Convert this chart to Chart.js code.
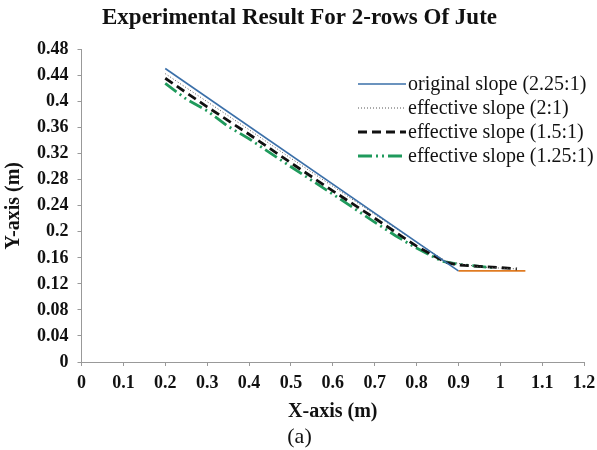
<!DOCTYPE html>
<html>
<head>
<meta charset="utf-8">
<script src="https://cdn.jsdelivr.net/npm/chart.js@4/dist/chart.umd.min.js"></script>
<style>
  html, body { margin: 0; padding: 0; background: #fff; }
  #wrap { width: 597px; height: 450px; }
</style>
</head>
<body>
<div id="wrap"><canvas id="jute"></canvas></div>
<script>
// series (x in m, y in m)
var xOriginal = [0.2, 0.9];
var yOriginal = [0.451, 0.14];

var xSlope2 = [0.2, 0.3, 0.4, 0.5, 0.6, 0.7, 0.8, 0.87, 0.95, 1.04];
var ySlope2 = [0.443, 0.400, 0.357, 0.313, 0.270, 0.227, 0.184, 0.155, 0.146, 0.143];

var xSlope15 = [0.2, 0.3, 0.4, 0.5, 0.6, 0.7, 0.8, 0.87, 0.9, 1.0, 1.04];
var ySlope15 = [0.436, 0.392, 0.350, 0.306, 0.263, 0.221, 0.178, 0.153, 0.149, 0.145, 0.143];

var xSlope125 = [0.2, 0.25, 0.3, 0.35, 0.4, 0.5, 0.6, 0.7, 0.75, 0.8, 0.86, 0.9, 0.98];
var ySlope125 = [0.428, 0.404, 0.386, 0.362, 0.343, 0.300, 0.258, 0.215, 0.194, 0.175, 0.155, 0.150, 0.145];

var xBase = [0.9, 1.06];
var yBase = [0.14, 0.14];

var labels = ['original slope (2.25:1)', 'effective slope (2:1)', 'effective slope (1.5:1)', 'effective slope (1.25:1)'];

var serif = "'Liberation Serif', 'Times New Roman', serif";

//zip x and y into points
function pts(xs, ys) {
  var out = [];
  for (var i = 0; i < xs.length; i++) {
    out.push({x: xs[i], y: ys[i]});
  }
  return out;
}

function fmt(v) {
  return String(parseFloat(v.toFixed(2)));
}

//legend drawn inside the plot, top right
const insideLegend = {
  id: 'insideLegend',
  afterDraw(chart) {
    var ctx = chart.ctx;
    var left = 358, top = 84, gap = 24, len = 48;
    ctx.save();
    ctx.font = '20px ' + serif;
    ctx.textBaseline = 'middle';
    for (var i = 0; i < 4; i++) {
      var ds = chart.data.datasets[i];
      var y = top + i * gap;
      ctx.strokeStyle = ds.borderColor;
      ctx.lineWidth = ds.borderWidth;
      ctx.setLineDash(ds.borderDash || []);
      ctx.beginPath();
      ctx.moveTo(left, y);
      ctx.lineTo(left + len, y);
      ctx.stroke();
      ctx.setLineDash([]);
      ctx.fillStyle = '#111';
      ctx.fillText(ds.label, left + len + 2, y + 1);
    }
    ctx.restore();
  }
};

const data = {
  datasets: [{
    label: labels[0],
    data: pts(xOriginal, yOriginal),
    borderColor: '#3a6fa8',
    borderWidth: 1.6
  }, {
    label: labels[1],
    data: pts(xSlope2, ySlope2),
    borderColor: '#555',
    borderWidth: 1,
    borderDash: [1, 2]
  }, {
    label: labels[2],
    data: pts(xSlope15, ySlope15),
    borderColor: '#111',
    borderWidth: 2.8,
    borderDash: [9, 5]
  }, {
    label: labels[3],
    data: pts(xSlope125, ySlope125),
    borderColor: '#1f9a5c',
    borderWidth: 2.8,
    borderDash: [14, 4, 2, 4, 2, 4]
  }, {
    label: 'base',
    data: pts(xBase, yBase),
    borderColor: '#e07b22',
    borderWidth: 1.8
  }]
};

const config = {
  type: 'line',
  data: data,
  options: {
    responsive: true,
    maintainAspectRatio: false,
    animation: false,
    elements: { point: { radius: 0 }, line: { tension: 0, fill: false } },
    layout: { padding: { left: 2, right: 0, top: 2, bottom: 0 } },
    plugins: {
      legend: { display: false },
      tooltip: { enabled: false },
      title: {
        display: true,
        text: 'Experimental Result For 2-rows Of Jute',
        color: '#111',
        font: { family: serif, size: 23, weight: 'bold' },
        padding: { top: 2, bottom: 18 }
      },
      subtitle: {
        display: true,
        position: 'bottom',
        text: '(a)',
        color: '#111',
        font: { family: serif, size: 22 },
        padding: { top: 0, bottom: 0 }
      }
    },
    scales: {
      x: {
        type: 'linear',
        min: 0,
        max: 1.2,
        border: { color: '#999' },
        grid: { drawOnChartArea: false, color: '#999', tickLength: 4 },
        afterFit: function (scale) { scale.paddingRight = 13; },
        ticks: {
          stepSize: 0.1,
          color: '#111',
          padding: 7,
          maxRotation: 0,
          font: { family: serif, size: 18, weight: 'bold' },
          callback: function (v) { return fmt(v); }
        },
        title: {
          display: true,
          text: 'X-axis (m)',
          color: '#111',
          font: { family: serif, size: 20, weight: 'bold', lineHeight: 1 },
          padding: { top: 0, bottom: 2 }
        }
      },
      y: {
        min: 0,
        max: 0.48,
        border: { color: '#999' },
        grid: { drawOnChartArea: false, color: '#999', tickLength: 4 },
        ticks: {
          stepSize: 0.04,
          color: '#111',
          padding: 9,
          font: { family: serif, size: 18, weight: 'bold' },
          callback: function (v) { return fmt(v); }
        },
        title: {
          display: true,
          text: 'Y-axis (m)',
          color: '#111',
          font: { family: serif, size: 20, weight: 'bold' },
          padding: { top: 0, bottom: 2 }
        }
      }
    }
  },
  plugins: [insideLegend]
};

var juteChart = new Chart(document.getElementById('jute'), config);
</script>
</body>
</html>
